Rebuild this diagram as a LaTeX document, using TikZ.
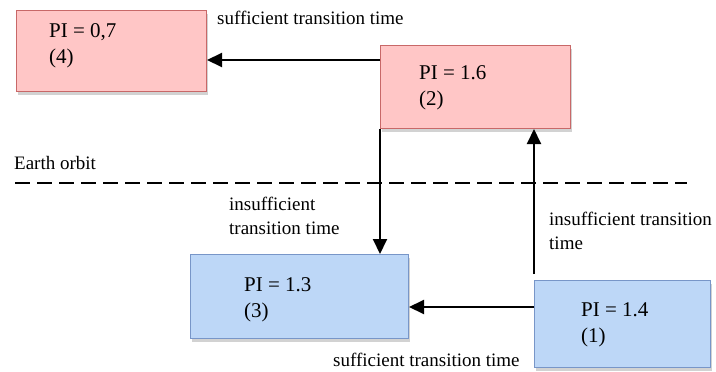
\documentclass[tikz,border=0pt]{standalone}
\usepackage{fontspec}
\setmainfont{Liberation Serif}
\usetikzlibrary{arrows.meta,shadows}
\definecolor{pinkfill}{HTML}{FFC6C6}
\definecolor{pinkdraw}{HTML}{C86868}
\definecolor{bluefill}{HTML}{BDD7F7}
\definecolor{bluedraw}{HTML}{7896C8}
\tikzset{
  box/.style={rectangle, inner sep=0pt, line width=1pt,
    drop shadow={opacity=0.35, shadow xshift=1.5pt, shadow yshift=-3pt}},
  redbox/.style={box, fill=pinkfill, draw=pinkdraw},
  bluebox/.style={box, fill=bluefill, draw=bluedraw},
  boxtext/.style={anchor=west, align=left, inner sep=0pt,
    font=\fontsize{21}{26}\selectfont},
  lbl/.style={anchor=west, align=left, inner sep=0pt,
    font=\fontsize{19}{24}\selectfont},
  arr/.style={line width=2pt, -{Triangle[length=15pt,width=14pt]}},
}
\begin{document}
\begin{tikzpicture}[x=1pt,y=-1pt]
\useasboundingbox (0,0) rectangle (716,372);
\fill[white] (0,0) rectangle (716,372);
% boxes
\node[redbox, minimum width=190pt, minimum height=81pt, anchor=north west] (b4) at (16,10) {};
\node[redbox, minimum width=190pt, minimum height=83pt, anchor=north west] (b2) at (380,45) {};
\node[bluebox, minimum width=218pt, minimum height=84pt, anchor=north west] (b3) at (190,254) {};
\node[bluebox, minimum width=176pt, minimum height=87pt, anchor=north west] (b1) at (534,280) {};
% box texts
\node[boxtext] (t4) at (49,46) {PI = 0,7\\(4)};
\node[boxtext] (t2) at (419,88) {PI = 1.6\\(2)};
\node[boxtext] (t3) at (244,300) {PI = 1.3\\(3)};
\node[boxtext] (t1) at (581,325) {PI = 1.4\\(1)};
% earth orbit
\node[lbl] (eo) at (14,163) {Earth orbit};
\coordinate (dl) at (15,183);
\coordinate (dr) at (687,183);
\draw[line width=2pt, dash pattern=on 15pt off 7pt] (dl) -- (dr);
% arrows
\draw[arr] (b2.west |- 0,60) -- (b4.east |- 0,60);
\draw[arr] (b2.south west) -- (b3.north -| b2.south west);
\draw[arr] ([yshift=6pt]b1.north west) -- (b2.south -| b1.north west);
\draw[arr] (b1.west |- 0,307) -- (b3.east |- 0,307);
% labels
\node[lbl] (l1) at (217,18) {sufficient transition time};
\node[lbl] (l2) at (229,216) {insufficient\\transition time};
\node[lbl] (l3) at (549,231) {insufficient transition\\time};
\node[lbl] (l4) at (333,360) {sufficient transition time};
\end{tikzpicture}
\end{document}
